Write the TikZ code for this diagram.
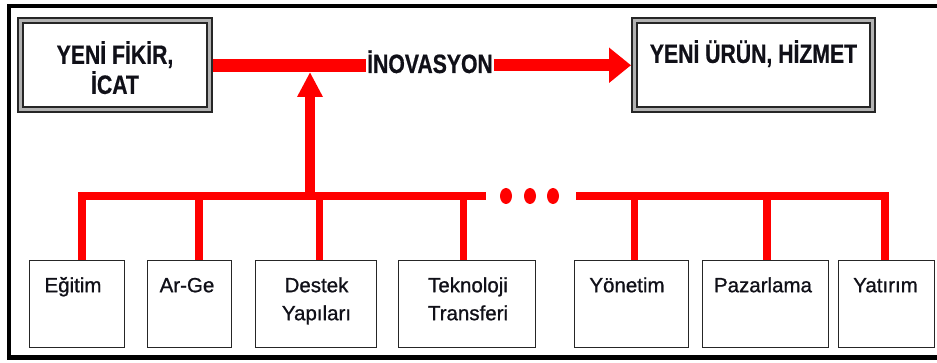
\documentclass[tikz,border=0pt]{standalone}
\usepackage{fontspec}
\usetikzlibrary{arrows.meta,shapes.geometric}
\setmainfont{Liberation Sans}
\newfontfamily\headfont[FakeStretch=0.8,FakeBold=0.6]{Liberation Sans Bold}
\newfontfamily\itemfont[FakeBold=0.9]{Liberation Sans}
\definecolor{flow}{HTML}{FF0000}
\definecolor{ink}{HTML}{101018}

\begin{document}
\begin{tikzpicture}[x=1pt,y=-1pt,
  headbox/.style={rectangle, draw=black!85, line width=2pt, double=black!30,
    double distance=3pt, fill=white, inner sep=0pt, outer sep=3.5pt,
    minimum height=88.5pt},
  headtxt/.style={font=\headfont\fontsize{26.5}{30}\selectfont, text=ink,
    align=center, inner sep=0pt},
  itembox/.style={rectangle, draw=black!85, line width=1.8pt, fill=white,
    inner sep=0pt, outer sep=0pt, minimum height=87pt},
  itemtxt/.style={font=\itemfont\fontsize{20.5}{28}\selectfont, text=ink,
    align=center, inner sep=0pt, anchor=north},
  mainflow/.style={draw=flow, line width=13pt},
  busline/.style={draw=flow, line width=7.5pt, line join=miter, line cap=butt},
  dotmark/.style={ellipse, fill=flow, inner sep=0pt, minimum width=12pt,
    minimum height=16pt}
]
\useasboundingbox (0,0) rectangle (937,363);
\clip (0,0) rectangle (937,363);

% outer frame (right side runs off the page)
\draw[line width=4.5pt, line join=miter] (950,6) -- (9,6) -- (9,357.5) -- (950,357.5);

% hubs on the red lines
\coordinate (hub) at (310,196);
\coordinate (meet) at (310,72);
\coordinate (b1) at (82,196);
\coordinate (b2) at (199,196);
\coordinate (b3) at (319.5,196);
\coordinate (b4) at (463.5,196);
\coordinate (b5) at (634.5,196);
\coordinate (b6) at (767,196);
\coordinate (b7) at (885,196);
\coordinate (busL) at (486,196);
\coordinate (busR) at (576,196);

% main innovation line
\node[headtxt, anchor=base, inner xsep=1pt] (inov) at (430,73) {İNOVASYON};

% bottom boxes (drawn later on top of the drops)
\path
  (77,304)    node[itembox, minimum width=95pt]  (egitim) {}
  (189.5,304) node[itembox, minimum width=84pt]  (arge) {}
  (316,304)   node[itembox, minimum width=121pt] (destek) {}
  (467,304)   node[itembox, minimum width=137pt] (tekno) {}
  (631.5,304) node[itembox, minimum width=114pt] (yonetim) {}
  (765.5,304) node[itembox, minimum width=126pt] (pazar) {}
  (886.5,304) node[itembox, minimum width=96pt]  (yatirim) {};

% top boxes
\node[headbox, minimum width=189pt] (fikir) at (115,65.25) {};
\node[headbox, minimum width=238pt] (urun) at (753.5,65.25) {};

% red connectors
\draw[mainflow] (fikir.east) -- (fikir.east -| inov.west);
\draw[mainflow, line width=12.5pt, -{Triangle[length=22pt,width=34pt]}]
  (inov.east |- urun.west) -- (urun.west);
\draw[draw=flow, line width=10pt, -{Triangle[length=25pt,width=24pt]}] (hub) -- (meet);

\draw[busline] (egitim.north -| b1) -- (b1) -- (busL);
\draw[busline] (busR) -- (b7) -- (yatirim.north -| b7);
\draw[busline] (b2) -- (arge.north -| b2);
\draw[busline] (b3) -- (destek.north -| b3);
\draw[busline] (b4) -- (tekno.north -| b4);
\draw[busline] (b5) -- (yonetim.north -| b5);
\draw[busline] (b6) -- (pazar.north -| b6);

\node[dotmark] (d1) at (506,196) {};
\node[dotmark] (d2) at (530,196) {};
\node[dotmark] (d3) at (553,196) {};

% redraw box outlines over the line ends
\foreach \n in {egitim,arge,destek,tekno,yonetim,pazar,yatirim}
  \draw[draw=black!85, line width=1.8pt] (\n.north west) rectangle (\n.south east);

% texts
\node[headtxt, anchor=north] (fikirtxt) at (115,41) {\rule{0pt}{20pt}YENİ FİKİR,\\İCAT};
\node[headtxt, anchor=north] (uruntxt) at (753.5,40) {\rule{0pt}{20pt}YENİ ÜRÜN, HİZMET};

\node[itemtxt] (egitimtxt)  at (73,274)    {\rule{0pt}{18pt}Eğitim};
\node[itemtxt] (argetxt)    at (187,274)   {\rule{0pt}{18pt}Ar-Ge};
\node[itemtxt] (destektxt)  at (316.5,274) {\rule{0pt}{18pt}Destek\\Yapıları};
\node[itemtxt] (teknotxt)   at (468,274)   {\rule{0pt}{18pt}Teknoloji\\Transferi};
\node[itemtxt] (yonetimtxt) at (627,274)   {\rule{0pt}{18pt}Yönetim};
\node[itemtxt] (pazartxt)   at (763,274)   {\rule{0pt}{18pt}Pazarlama};
\node[itemtxt] (yatirimtxt) at (885.5,274) {\rule{0pt}{18pt}Yatırım};
\end{tikzpicture}
\end{document}
